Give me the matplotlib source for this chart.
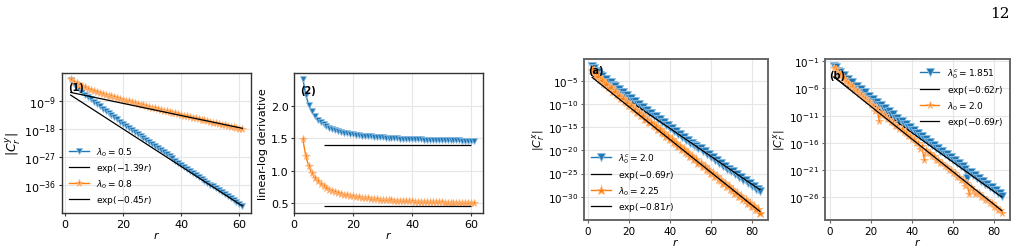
import numpy as np
import matplotlib
matplotlib.use("Agg")
import matplotlib.pyplot as plt
from matplotlib.ticker import NullLocator

# ---- panel (1): |C^y_r| for lambda0 = 0.5 and 0.8 (log10 values), r = 2..61
r1 = np.arange(2, 62)
logC_y_05 = [-2.25, -3.39, -4.38, -5.28, -6.13, -6.94, -7.73, -8.49, -9.24, -9.98,
             -10.71, -11.42, -12.13, -12.83, -13.53, -14.22, -14.91, -15.59, -16.27, -16.95,
             -17.62, -18.29, -18.96, -19.62, -20.29, -20.95, -21.61, -22.27, -22.92, -23.58,
             -24.23, -24.88, -25.53, -26.18, -26.83, -27.48, -28.13, -28.78, -29.42, -30.06,
             -30.71, -31.35, -31.99, -32.64, -33.28, -33.92, -34.56, -35.20, -35.84, -36.47,
             -37.11, -37.75, -38.38, -39.02, -39.66, -40.29, -40.93, -41.56, -42.20, -42.83]
logC_y_08 = [-2.00, -2.74, -3.32, -3.82, -4.26, -4.66, -5.03, -5.39, -5.72, -6.05,
             -6.36, -6.66, -6.96, -7.25, -7.53, -7.80, -8.08, -8.34, -8.61, -8.87,
             -9.13, -9.38, -9.64, -9.89, -10.13, -10.38, -10.62, -10.87, -11.11, -11.35,
             -11.59, -11.82, -12.06, -12.29, -12.52, -12.76, -12.99, -13.22, -13.45, -13.68,
             -13.90, -14.13, -14.36, -14.58, -14.81, -15.03, -15.26, -15.48, -15.70, -15.92,
             -16.14, -16.37, -16.59, -16.81, -17.03, -17.25, -17.46, -17.68, -17.90, -18.12]
fit1_rates = [1.39, 0.45]
fit1_logpref = [-5.9, -5.85]

# ---- panel (2): linear-log derivative, r = 3..61
r2 = np.arange(3, 62)
deriv_05 = [2.41, 2.16, 2.01, 1.91, 1.84, 1.785, 1.743, 1.71, 1.683, 1.66,
            1.641, 1.624, 1.61, 1.598, 1.586, 1.577, 1.568, 1.56, 1.553, 1.546,
            1.54, 1.535, 1.53, 1.525, 1.521, 1.517, 1.513, 1.51, 1.507, 1.504,
            1.501, 1.498, 1.496, 1.493, 1.491, 1.489, 1.487, 1.485, 1.483, 1.481,
            1.48, 1.478, 1.477, 1.475, 1.474, 1.4725, 1.471, 1.47, 1.469, 1.468,
            1.467, 1.466, 1.465, 1.464, 1.463, 1.462, 1.461, 1.46, 1.459]
deriv_08 = [1.48, 1.22, 1.07, 0.965, 0.891, 0.836, 0.793, 0.759, 0.731, 0.708,
            0.688, 0.671, 0.656, 0.643, 0.632, 0.622, 0.613, 0.605, 0.597, 0.59,
            0.584, 0.579, 0.574, 0.569, 0.564, 0.56, 0.557, 0.553, 0.55, 0.547,
            0.544, 0.541, 0.538, 0.536, 0.534, 0.531, 0.529, 0.527, 0.525, 0.524,
            0.522, 0.52, 0.519, 0.517, 0.516, 0.514, 0.513, 0.512, 0.511, 0.509,
            0.508, 0.507, 0.506, 0.505, 0.504, 0.503, 0.502, 0.502, 0.501]

# ---- panel (a): |C^x_r|, r = 2..84
r3 = np.arange(2, 85)
logC_a_20 = [-1.95, -2.20, -2.98, -3.11, -3.83, -3.92, -4.60, -4.68, -5.34, -5.40,
             -6.05, -6.10, -6.75, -6.79, -7.43, -7.47, -8.10, -8.14, -8.77, -8.80,
             -9.43, -9.45, -10.08, -10.10, -10.73, -10.75, -11.37, -11.40, -12.02, -12.04,
             -12.66, -12.68, -13.29, -13.31, -13.93, -13.95, -14.56, -14.58, -15.19, -15.21,
             -15.82, -15.84, -16.45, -16.47, -17.08, -17.09, -17.71, -17.72, -18.33, -18.34,
             -18.96, -18.97, -19.58, -19.59, -20.20, -20.21, -20.82, -20.83, -21.44, -21.45,
             -22.06, -22.07, -22.68, -22.69, -23.30, -23.31, -23.92, -23.93, -24.54, -24.55,
             -25.16, -25.16, -25.77, -25.78, -26.39, -26.40, -27.00, -27.01, -27.62, -27.63,
             -28.24, -28.24, -28.85]
logC_a_225 = [-2.75, -3.00, -3.79, -3.95, -4.69, -4.82, -5.53, -5.64, -6.34, -6.44,
              -7.14, -7.22, -7.91, -8.00, -8.68, -8.76, -9.44, -9.52, -10.20, -10.27,
              -10.94, -11.02, -11.69, -11.76, -12.43, -12.50, -13.17, -13.24, -13.91, -13.98,
              -14.64, -14.71, -15.38, -15.44, -16.11, -16.17, -16.84, -16.90, -17.57, -17.63,
              -18.29, -18.35, -19.02, -19.08, -19.74, -19.81, -20.47, -20.53, -21.19, -21.25,
              -21.91, -21.97, -22.63, -22.70, -23.36, -23.42, -24.08, -24.14, -24.80, -24.86,
              -25.52, -25.57, -26.23, -26.29, -26.95, -27.01, -27.67, -27.73, -28.39, -28.45,
              -29.11, -29.16, -29.82, -29.88, -30.54, -30.60, -31.25, -31.31, -31.97, -32.03,
              -32.69, -32.74, -33.40]
fit3_rates = [0.69, 0.81]
fit3_logpref = [-3.3, -3.6]

# ---- panel (b): |C^x_r|, r = 2..84
logC_b_1851 = [-1.95, -2.12, -2.83, -2.90, -3.56, -3.61, -4.24, -4.27, -4.89, -4.90,
               -5.52, -5.52, -6.13, -6.13, -6.73, -6.73, -7.33, -7.32, -7.92, -7.91,
               -8.50, -8.49, -9.08, -9.07, -9.66, -9.65, -10.24, -10.22, -10.81, -10.79,
               -11.38, -11.36, -11.95, -11.93, -12.51, -12.50, -13.08, -13.06, -13.64, -13.62,
               -14.20, -14.18, -14.76, -14.74, -15.33, -15.30, -15.88, -15.86, -16.44, -16.42,
               -17.00, -16.98, -17.56, -17.54, -18.11, -18.09, -18.67, -18.65, -19.22, -19.20,
               -19.78, -19.76, -20.33, -20.31, -20.89, -22.40, -21.44, -21.42, -21.99, -21.97,
               -22.55, -22.52, -23.10, -23.07, -23.65, -23.62, -24.20, -24.18, -24.75, -24.73,
               -25.30, -25.28, -25.85]
logC_b_20 = [-2.25, -2.48, -3.25, -3.37, -4.08, -4.16, -4.84, -4.91, -5.57, -5.62,
             -6.27, -6.32, -6.96, -7.00, -7.64, -7.67, -8.30, -8.33, -8.96, -8.99,
             -10.10, -9.64, -11.90, -10.29, -10.91, -10.93, -11.55, -11.57, -12.19, -12.21,
             -12.83, -12.85, -13.46, -13.48, -14.10, -14.11, -14.73, -14.74, -15.36, -15.37,
             -15.98, -16.00, -17.10, -16.62, -19.10, -17.25, -17.86, -17.87, -18.48, -18.50,
             -19.11, -19.12, -19.73, -19.74, -20.35, -20.36, -20.97, -20.98, -21.59, -21.60,
             -22.21, -22.22, -22.83, -22.83, -23.90, -23.45, -25.40, -24.07, -24.68, -25.50,
             -25.29, -25.30, -25.91, -25.92, -26.52, -26.52, -27.14, -27.15, -27.75, -27.76,
             -28.37, -28.37, -28.98]
fit4_rates = [0.62, 0.69]
fit4_logpref = [-3.36, -3.3]

W, H = 1022, 253
fig = plt.figure(figsize=(W / 100, H / 100), dpi=100)

def px(l, r, t, b):
    return [l / W, 1 - b / H, (r - l) / W, (b - t) / H]

ax1 = fig.add_axes(px(62, 251, 74, 214))
ax2 = fig.add_axes(px(294, 483, 74, 214))
ax3 = fig.add_axes(px(584, 768, 60, 221))
ax4 = fig.add_axes(px(825, 1010, 60, 221))

blue = dict(color="C0", marker="v", lw=1.0, mec="#8cbde2", mew=0.6)
orng = dict(color="C1", marker="*", lw=1.0, mec="#ffb374", mew=0.6)

def style(ax, fs, lw, col):
    ax.grid(True, color="0.9", lw=0.8)
    ax.set_axisbelow(True)
    for s in ax.spines.values():
        s.set_color(col)
        s.set_linewidth(lw)
    ax.tick_params(labelsize=fs, length=2.5, width=0.8, color=col, pad=1.5)
    ax.set_xlabel("$r$", fontsize=8, labelpad=0)

# panel (1)
ax1.semilogy(r1, 10.0 ** np.array(logC_y_05), ms=5, label=r"$\lambda_0=0.5$", **blue)
ax1.semilogy(r1, 10.0 ** fit1_logpref[0] * np.exp(-fit1_rates[0] * r1), "k", lw=0.9,
             label=r"$\exp(-%.2fr)$" % fit1_rates[0])
ax1.semilogy(r1, 10.0 ** np.array(logC_y_08), ms=5.5, label=r"$\lambda_0=0.8$", **orng)
ax1.semilogy(r1, 10.0 ** fit1_logpref[1] * np.exp(-fit1_rates[1] * r1), "k", lw=0.9,
             label=r"$\exp(-%.2fr)$" % fit1_rates[1])
ax1.set_ylim(1e-45, 1e0)
ax1.set_xlim(-1, 64)
ax1.set_yticks([1e-9, 1e-18, 1e-27, 1e-36])
ax1.yaxis.set_minor_locator(NullLocator())
ax1.set_xticks([0, 20, 40, 60])
style(ax1, 8, 1.0, "0.2")
ax1.set_ylabel("$|C^y_r|$", fontsize=9, labelpad=1)
ax1.legend(loc="lower left", fontsize=6.5, frameon=False, handlelength=2.2,
           labelspacing=0.35, borderaxespad=0.4)
ax1.text(0.03, 0.88, "(1)", transform=ax1.transAxes, fontsize=7, fontweight="bold")

# panel (2)
ax2.plot(r2, deriv_05, ms=5, **blue)
ax2.plot(r2, deriv_08, ms=5.5, **orng)
ax2.hlines(fit1_rates, 10, 60, colors="k", lw=0.9)
ax2.set_xlim(0, 64)
ax2.set_ylim(0.35, 2.5)
ax2.set_xticks([0, 20, 40, 60])
ax2.set_yticks([0.5, 1.0, 1.5, 2.0])
style(ax2, 8, 1.0, "0.2")
ax2.set_ylabel("linear-log derivative", fontsize=8, labelpad=2)
ax2.text(0.03, 0.86, "(2)", transform=ax2.transAxes, fontsize=7, fontweight="bold")

# panel (a)
ax3.semilogy(r3, 10.0 ** np.array(logC_a_20), ms=6, label=r"$\lambda^c_0=2.0$", **blue)
ax3.semilogy(r3, 10.0 ** fit3_logpref[0] * np.exp(-fit3_rates[0] * r3), "k", lw=0.9,
             label=r"$\exp(-%.2fr)$" % fit3_rates[0])
ax3.semilogy(r3, 10.0 ** np.array(logC_a_225), ms=6.5, label=r"$\lambda_0=2.25$", **orng)
ax3.semilogy(r3, 10.0 ** fit3_logpref[1] * np.exp(-fit3_rates[1] * r3), "k", lw=0.9,
             label=r"$\exp(-%.2fr)$" % fit3_rates[1])
ax3.set_ylim(10.0 ** -35.0, 10.0 ** -0.35)
ax3.set_xlim(-2, 88)
ax3.set_yticks([1e-5, 1e-10, 1e-15, 1e-20, 1e-25, 1e-30])
ax3.yaxis.set_minor_locator(NullLocator())
ax3.set_xticks([0, 20, 40, 60, 80])
style(ax3, 7.5, 1.4, "0.4")
ax3.set_ylabel("$|C^x_r|$", fontsize=8, labelpad=1)
ax3.legend(loc="lower left", fontsize=6.5, frameon=False, handlelength=2.2,
           labelspacing=0.35, borderaxespad=0.4)
ax3.text(0.02, 0.91, "(a)", transform=ax3.transAxes, fontsize=7, fontweight="bold")

# panel (b)
ax4.semilogy(r3, 10.0 ** np.array(logC_b_1851), ms=6, label=r"$\lambda^c_0=1.851$", **blue)
ax4.semilogy(r3, 10.0 ** fit4_logpref[0] * np.exp(-fit4_rates[0] * r3), "k", lw=0.9,
             label=r"$\exp(-%.2fr)$" % fit4_rates[0])
ax4.semilogy(r3, 10.0 ** np.array(logC_b_20), ms=5.5, label=r"$\lambda_0=2.0$", **orng)
ax4.semilogy(r3, 10.0 ** fit4_logpref[1] * np.exp(-fit4_rates[1] * r3), "k", lw=0.9,
             label=r"$\exp(-%.2fr)$" % fit4_rates[1])
ax4.set_ylim(10.0 ** -30.2, 10.0 ** -0.58)
ax4.set_xlim(-2.4, 88)
ax4.set_yticks([1e-1, 1e-6, 1e-11, 1e-16, 1e-21, 1e-26])
ax4.yaxis.set_minor_locator(NullLocator())
ax4.set_xticks([0, 20, 40, 60, 80])
style(ax4, 7.5, 1.4, "0.4")
ax4.set_ylabel("$|C^x_r|$", fontsize=8, labelpad=1)
ax4.legend(loc="upper right", fontsize=6.5, frameon=False, handlelength=2.2,
           labelspacing=0.35, borderaxespad=0.4)
ax4.text(0.02, 0.88, "(b)", transform=ax4.transAxes, fontsize=7, fontweight="bold")

# page number
fig.text(1010 / W, 1 - 14 / H, "12", fontsize=11, family="DejaVu Serif",
         ha="right", va="center")

fig.savefig("out.png", dpi=100)
